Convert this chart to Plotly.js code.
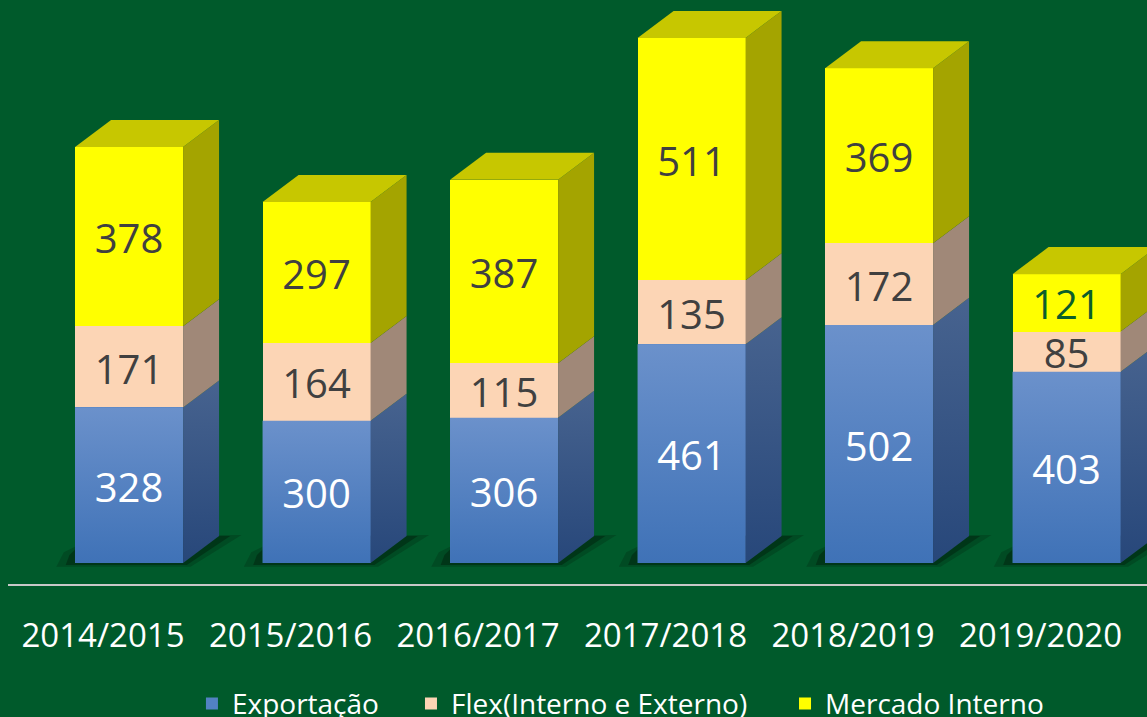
<!DOCTYPE html>
<html><head><meta charset="utf-8">
<script src="https://cdn.plot.ly/plotly-3.0.1.min.js"></script>
<style>html,body{margin:0;padding:0;background:#005A2B;overflow:hidden;} #chart{width:1147px;height:717px;}</style>
</head><body><div id="chart"></div>
<script>
const seasons = ['2014/2015','2015/2016','2016/2017','2017/2018','2018/2019','2019/2020'];
const exportacao = [328, 300, 306, 461, 502, 403];
const flex = [171, 164, 115, 135, 172, 85];
const mercado = [378, 297, 387, 511, 369, 121];
const seriesNames = ['Exportação', 'Flex(Interno e Externo)', 'Mercado Interno'];

const BG = '#005A2B';
const FONT = 'Open Sans, Noto Sans, sans-serif';
const OFF = 0.139, BW = 0.576, DX = 0.192, DY = 57;
const LABEL_SHIFT = -14;
const xs = seasons.map((_, i) => i + OFF);

const frontColors = ['#5282C2', '#FCD5B5', '#FFFF00'];
const legendColors = ['#4F81BD', '#FCD5B5', '#FFFF00'];
const sideColors = ['#385785', '#A08878', '#A4A400'];
const topColor = '#C7C700';
const legendIds = ['legend', 'legend2', 'legend3'];

const series = [exportacao, flex, mercado];
const traces = [];

// front faces (bars)
series.forEach((vals, s) => {
  traces.push({
    type: 'bar', name: seriesNames[s], x: xs, y: vals, width: BW,
    marker: {color: frontColors[s], line: {width: 0}},
    legend: legendIds[s],
    hoverinfo: 'skip'
  });
});

const poly = (xArr, yArr, extra) => Object.assign({
  type: 'scatter', mode: 'lines', x: xArr, y: yArr, fill: 'toself',
  line: {width: 0}, showlegend: false, hoverinfo: 'skip'
}, extra);

seasons.forEach((_, i) => {
  const xl = xs[i] - BW / 2, xr = xs[i] + BW / 2;
  const levels = [0, exportacao[i], exportacao[i] + flex[i], exportacao[i] + flex[i] + mercado[i]];
  const T = levels[3];
  // soft floor shadow
  traces.push(poly(
    [xl - 0.1, xr + 0.04, xr + DX + 0.12, xr, xr, xl, xl, xl - 0.06, xl - 0.1],
    [-8, -8, DY + 2, DY + 2, 0, 0, DY * 0.6, DY * 0.4, -8],
    {fillcolor: 'rgba(0,25,8,0.22)'}));
  traces.push(poly(
    [xl - 0.05, xr + 0.02, xr + DX + 0.06, xr, xr, xl, xl, xl - 0.03, xl - 0.05],
    [-4, -4, DY, DY, 0, 0, DY * 0.5, DY * 0.3, -4],
    {fillcolor: 'rgba(0,18,5,0.35)'}));
  // blue front gradient overlay
  traces.push(poly([xl, xr, xr, xl, xl], [0, 0, levels[1], levels[1], 0],
    {fillgradient: {type: 'vertical', colorscale: [[0, '#3F72B7'], [1, '#6B91CB']]}}));
  // side faces
  for (let s = 0; s < 3; s++) {
    const lo = levels[s], hi = levels[s + 1];
    const extra = s === 0
      ? {fillgradient: {type: 'vertical', colorscale: [[0, '#27477A'], [1, '#47638F']]}}
      : {fillcolor: sideColors[s]};
    traces.push(poly([xr, xr + DX, xr + DX, xr, xr], [lo, lo + DY, hi + DY, hi, lo], extra));
  }
  // top face
  traces.push(poly([xl, xl + DX, xr + DX, xr, xl], [T, T + DY, T + DY, T, T], {fillcolor: topColor}));
});

// data labels
const labelColors = [
  seasons.map(() => '#FFFFFF'),
  seasons.map(() => '#404040'),
  mercado.map((v, i) => i === seasons.length - 1 ? '#0B5E2C' : '#404040')
];
series.forEach((vals, s) => {
  const mids = vals.map((v, i) => {
    let base = 0;
    for (let k = 0; k < s; k++) base += series[k][i];
    return base + v / 2 + LABEL_SHIFT;
  });
  traces.push({
    type: 'scatter', mode: 'text', x: xs, y: mids, text: vals.map(String),
    textposition: 'middle center',
    textfont: {family: FONT, size: 40, color: labelColors[s]},
    showlegend: false, hoverinfo: 'skip', cliponaxis: false
  });
});

const legendBase = {
  orientation: 'h', yanchor: 'top', y: -0.1652, xanchor: 'left',
  font: {family: FONT, size: 28, color: '#FFFFFF'},
  bgcolor: 'rgba(0,0,0,0)'
};

const layout = {
  width: 1147, height: 717,
  margin: {l: 8, r: 0, t: 10, b: 133, autoexpand: false},
  paper_bgcolor: BG, plot_bgcolor: BG,
  barmode: 'stack',
  showlegend: true,
  xaxis: {
    range: [-0.5067, 5.568], tickmode: 'array',
    tickvals: seasons.map((_, i) => i), ticktext: seasons,
    showline: true, linecolor: '#C8C8C8', linewidth: 2,
    showgrid: false, zeroline: false,
    ticks: 'outside', ticklen: 21, tickcolor: 'rgba(0,0,0,0)',
    tickfont: {family: FONT, size: 33, color: '#FFFFFF'},
    fixedrange: true
  },
  yaxis: {range: [-44.3, 1165.9], visible: false, fixedrange: true},
  legend: Object.assign({}, legendBase, {x: 0.1615}),
  legend2: Object.assign({}, legendBase, {x: 0.3538}),
  legend3: Object.assign({}, legendBase, {x: 0.6822}),
  font: {family: FONT}
};

Plotly.newPlot('chart', traces, layout, {displayModeBar: false, staticPlot: true});
</script>
</body></html>
